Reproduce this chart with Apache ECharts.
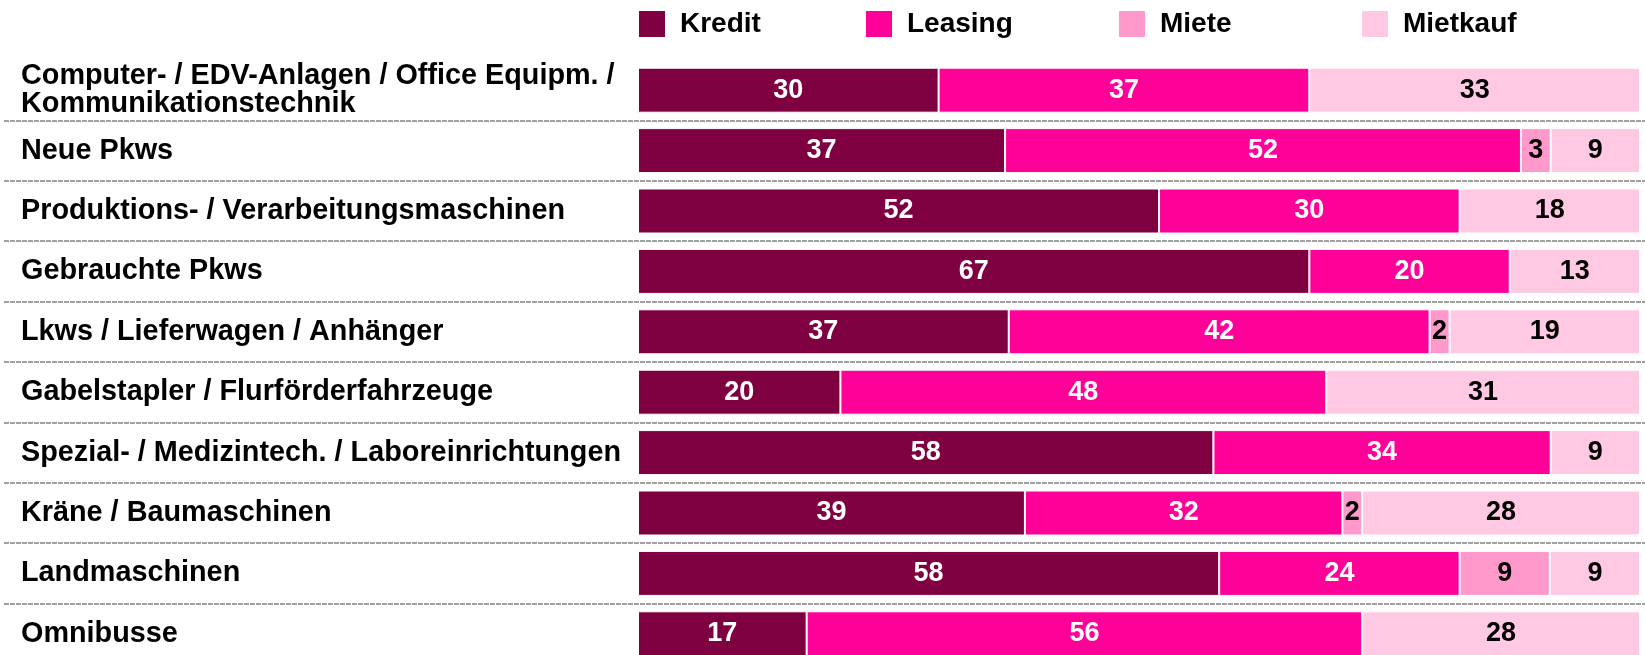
<!DOCTYPE html>
<html>
	<head>
		<meta charset="utf-8">
		<title>Finanzierungsformen nach Objektart</title>
		<script src="https://cdn.jsdelivr.net/npm/echarts@6/dist/echarts.min.js"></script>
		<style>
			html, body { margin: 0; padding: 0; background: #fff; }
		</style>
	</head>
	<body>
		<div id="main" style="width: 1645px;height:655px;"></div>

		<script type="text/javascript">
			// Kategorien (von oben nach unten)
			var categories = [
				'Computer- / EDV-Anlagen / Office Equipm. /\nKommunikationstechnik',
				'Neue Pkws',
				'Produktions- / Verarbeitungsmaschinen',
				'Gebrauchte Pkws',
				'Lkws / Lieferwagen / Anhänger',
				'Gabelstapler / Flurförderfahrzeuge',
				'Spezial- / Medizintech. / Laboreinrichtungen',
				'Kräne / Baumaschinen',
				'Landmaschinen',
				'Omnibusse'
			];

			// Werte je Finanzierungsform (null = kein Anteil)
			var kredit   = [30, 37, 52, 67, 37, 20, 58, 39, 58, 17];
			var leasing  = [37, 52, 30, 20, 42, 48, 34, 32, 24, 56];
			var miete    = [null, 3, null, null, 2, null, null, 2, 9, null];
			var mietkauf = [33, 9, 18, 13, 19, 31, 9, 28, 9, 28];

			var seriesNames = ['Kredit', 'Leasing', 'Miete', 'Mietkauf'];
			var seriesValues = [kredit, leasing, miete, mietkauf];
			var colors = ['#7f0040', '#ff0099', '#ff99cc', '#ffc9e4'];
			var labelColors = ['#fff', '#fff', '#000', '#000'];
			var legendLeft = [637, 864, 1117, 1360];

			var font = "'Liberation Sans', Arial, sans-serif";

			// Zeilensumme: jede Zeile wird auf 100 % gestreckt
			var totals = categories.map(function (c, i) {
				var s = 0;
				seriesValues.forEach(function (arr) { s += arr[i] || 0; });
				return s;
			});

			var series = seriesNames.map(function (name, k) {
				var raw = seriesValues[k];
				return {
					name: name,
					type: 'bar',
					stack: 'gesamt',
					xAxisIndex: 0,
					yAxisIndex: 0,
					barWidth: 45,
					itemStyle: {
						color: colors[k],
						borderColor: '#fff',
						borderWidth: 1
					},
					label: {
						show: true,
						position: 'inside',
						color: labelColors[k],
						fontFamily: font,
						fontSize: 27,
						fontWeight: 'bold',
						formatter: function (p) { return raw[p.dataIndex]; }
					},
					data: raw.map(function (v, i) {
						return v == null ? null : v / totals[i] * 100;
					})
				};
			});

			var legends = seriesNames.map(function (name, k) {
				return {
					data: [name],
					left: legendLeft[k],
					top: 9,
					padding: 0,
					icon: 'rect',
					itemWidth: 28,
					itemHeight: 28,
					selectedMode: false,
					textStyle: {
						fontFamily: font,
						fontSize: 28,
						fontWeight: 'bold',
						color: '#000',
						padding: [0, 0, 0, 9]
					}
				};
			});

			var labelStyle = {
				align: 'left',
				color: '#000',
				fontFamily: font,
				fontSize: 28.8,
				fontWeight: 'bold',
				lineHeight: 28,
				padding: [5, 0, 0, 0]
			};

			// zweizeiliges Label etwas tiefer setzen
			var axisData = categories.map(function (c) {
				if (c.indexOf('\n') < 0) return c;
				return {
					value: c,
					textStyle: Object.assign({}, labelStyle, { padding: [20, 0, 0, 0] })
				};
			});

			var myChart = echarts.init(document.getElementById('main'));
			var option = {
				animation: false,
				legend: legends,
				grid: [
					// Balken
					{ left: 638, right: 5, top: 60, height: 604, outerBoundsMode: 'none' },
					// gestrichelte Trennlinien über die ganze Breite
					{ left: 4, right: 0, top: 60, height: 604, outerBoundsMode: 'none' }
				],
				xAxis: [
					{ gridIndex: 0, type: 'value', min: 0, max: 100, show: false },
					{ gridIndex: 1, type: 'value', min: 0, max: 100, show: false }
				],
				yAxis: [
					{
						gridIndex: 0,
						type: 'category',
						inverse: true,
						data: axisData,
						axisLine: { show: false },
						axisTick: { show: false },
						splitLine: { show: false },
						axisLabel: Object.assign({ margin: 617, interval: 0 }, labelStyle)
					},
					{
						gridIndex: 1,
						type: 'category',
						inverse: true,
						data: categories,
						z: 0,
						axisLine: { show: false },
						axisTick: { show: false },
						axisLabel: { show: false },
						splitLine: {
							show: true,
							showMinLine: false,
							showMaxLine: false,
							interval: 0,
							lineStyle: { color: '#a0a0a0', width: 2, type: [5, 1] }
						}
					}
				],
				series: series
			};

			myChart.setOption(option);
		</script>
	</body>
</html>
